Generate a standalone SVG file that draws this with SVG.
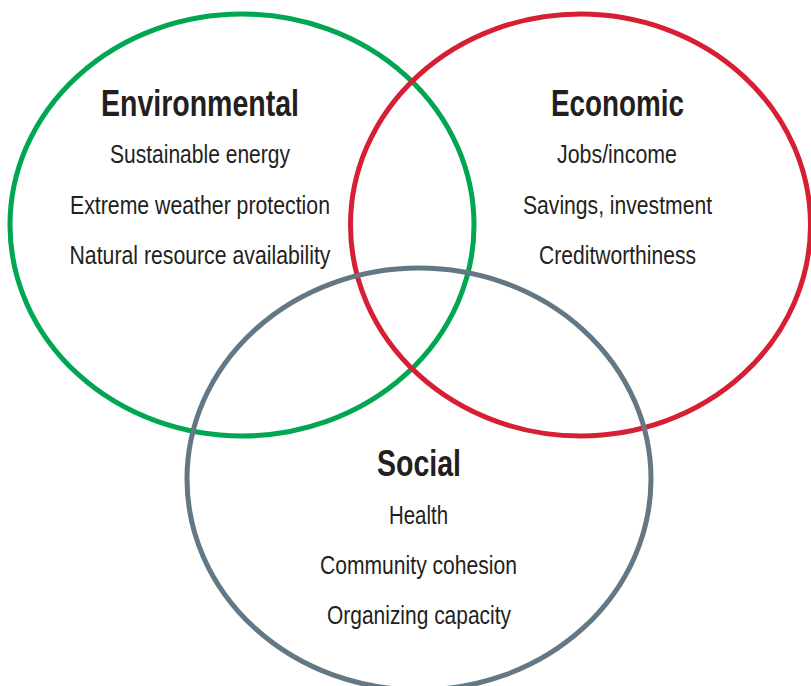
<svg xmlns="http://www.w3.org/2000/svg" width="811" height="686" viewBox="0 0 811 686">
<style>
.ring{fill:none;stroke-width:5}
.t{font-family:"Liberation Sans",Arial,sans-serif;fill:#231f20;text-anchor:middle}
.h{font-size:36px;font-weight:bold}
.i{font-size:25px}
</style>
<rect width="811" height="686" fill="#ffffff"/>
<g id="environmental">
<ellipse class="ring" cx="242" cy="225" rx="232" ry="211" stroke="#00a651"/>
<text class="t h" x="200" y="116" textLength="198" lengthAdjust="spacingAndGlyphs">Environmental</text>
<text class="t i" x="200" y="163" textLength="180" lengthAdjust="spacingAndGlyphs">Sustainable energy</text>
<text class="t i" x="200" y="214" textLength="260" lengthAdjust="spacingAndGlyphs">Extreme weather protection</text>
<text class="t i" x="200" y="264" textLength="261" lengthAdjust="spacingAndGlyphs">Natural resource availability</text>
</g>
<g id="economic">
<ellipse class="ring" cx="580.5" cy="225" rx="230" ry="211" stroke="#d71f34"/>
<text class="t h" x="617.5" y="116" textLength="133" lengthAdjust="spacingAndGlyphs">Economic</text>
<text class="t i" x="617" y="163" textLength="120" lengthAdjust="spacingAndGlyphs">Jobs/income</text>
<text class="t i" x="617.5" y="214" textLength="189" lengthAdjust="spacingAndGlyphs">Savings, investment</text>
<text class="t i" x="617.5" y="264" textLength="157" lengthAdjust="spacingAndGlyphs">Creditworthiness</text>
</g>
<g id="social">
<ellipse class="ring" cx="419" cy="479" rx="232" ry="211" stroke="#637784"/>
<text class="t h" x="419" y="476" textLength="84" lengthAdjust="spacingAndGlyphs">Social</text>
<text class="t i" x="418.5" y="524" textLength="59" lengthAdjust="spacingAndGlyphs">Health</text>
<text class="t i" x="418.5" y="574" textLength="197" lengthAdjust="spacingAndGlyphs">Community cohesion</text>
<text class="t i" x="419" y="624" textLength="184" lengthAdjust="spacingAndGlyphs">Organizing capacity</text>
</g>
<g id="connectors"/>
</svg>
